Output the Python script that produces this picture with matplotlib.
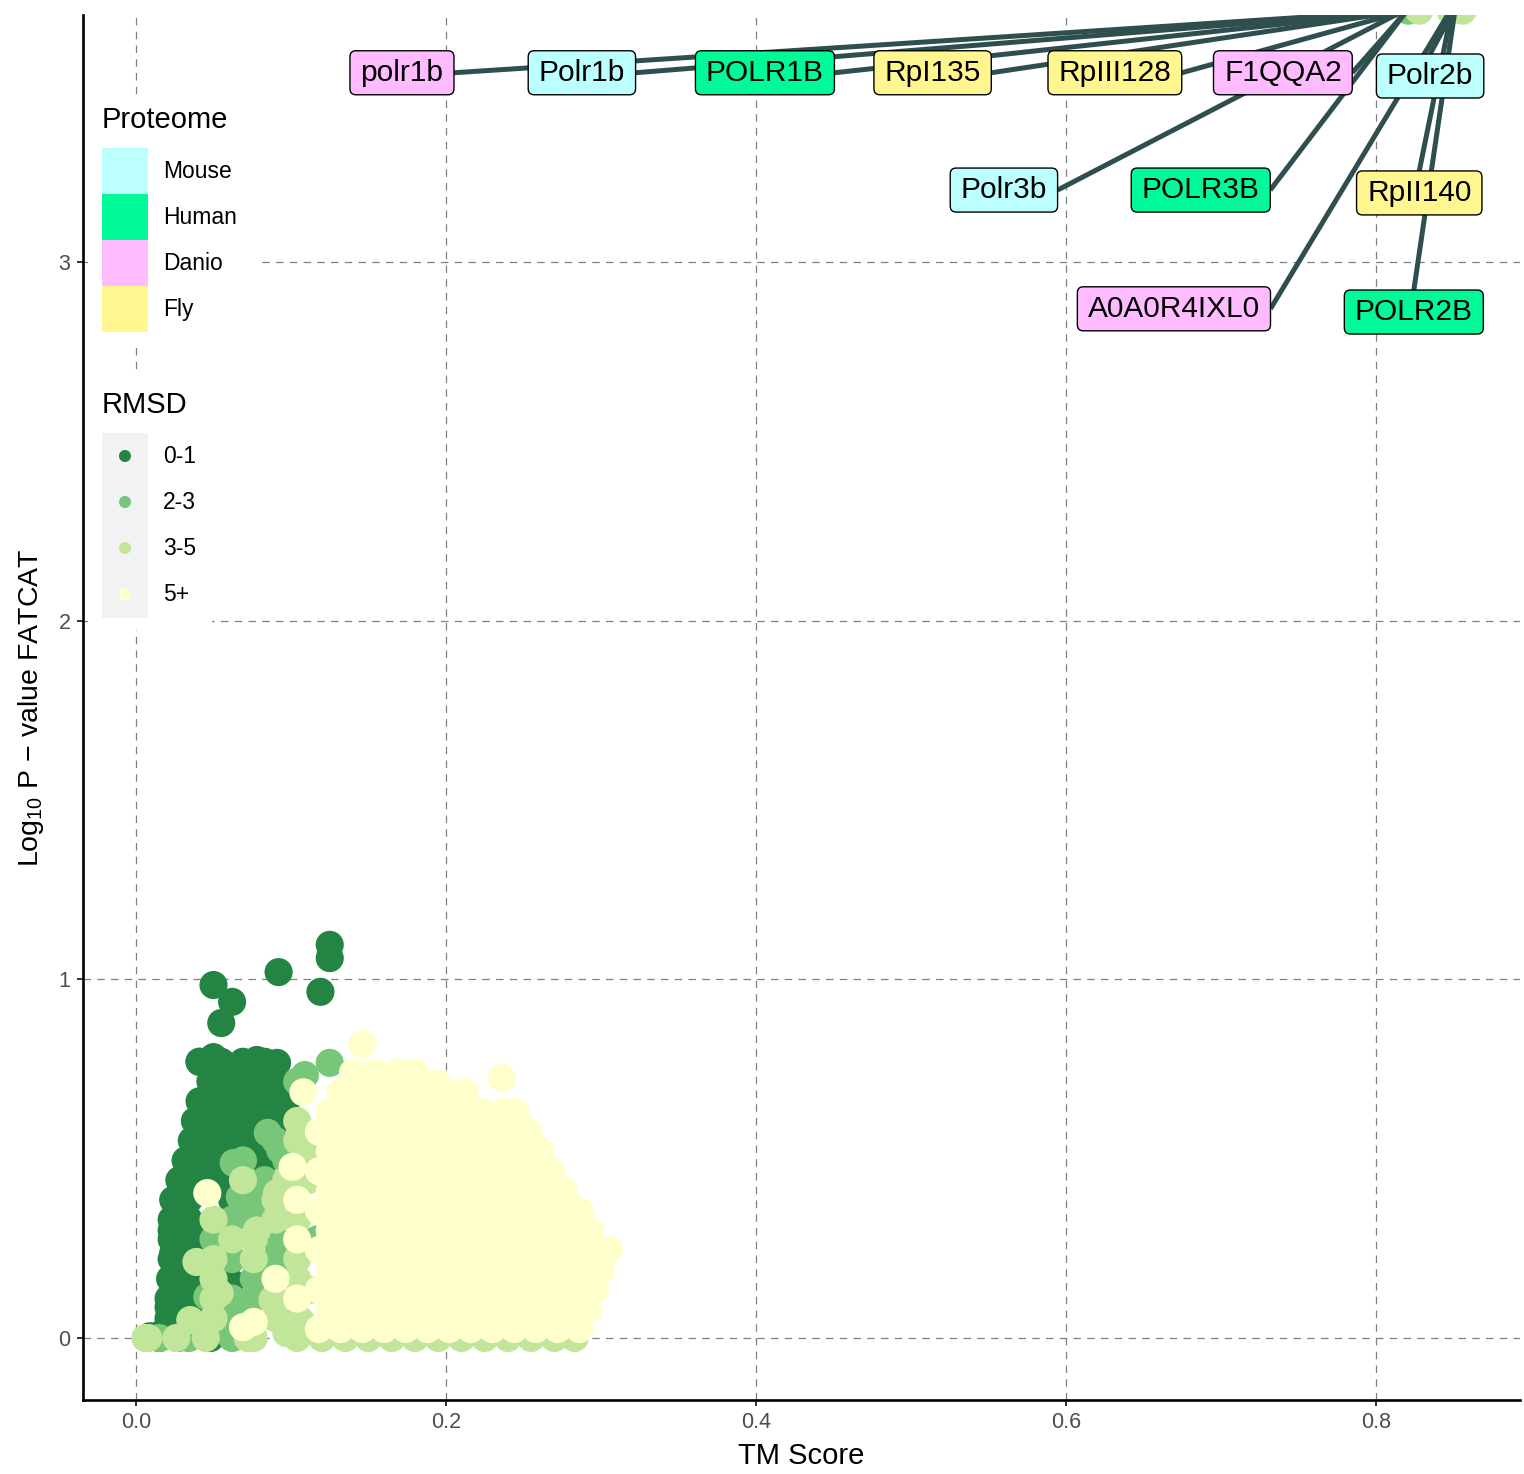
import matplotlib
matplotlib.use('Agg')
import matplotlib.pyplot as plt
from matplotlib.patches import Rectangle, FancyBboxPatch
from matplotlib.transforms import IdentityTransform

plt.rcParams['font.family'] = ['Liberation Sans', 'DejaVu Sans']
plt.rcParams['mathtext.fontset'] = 'custom'
plt.rcParams['mathtext.rm'] = 'Liberation Sans'

# --- data -----------------------------------------------------------------
rmsd_classes = ['0-1', '2-3', '3-5', '5+']
rmsd_colors = ['#238443', '#78c679', '#c2e699', '#ffffcc']

proteomes = ['Mouse', 'Human', 'Danio', 'Fly']
proteome_colors = ['#bbffff', '#00fa9a', '#ffbbff', '#fff68f']

# (TM score, log10 p)
rmsd01 = [(0.050, 0.984), (0.062, 0.937), (0.055, 0.878), (0.092, 1.020),
          (0.125, 1.096), (0.125, 1.059), (0.119, 0.965), (0.050, 0.783),
          (0.041, 0.770), (0.078, 0.775), (0.091, 0.767), (0.065, 0.720),
          (0.048, 0.663), (0.086, 0.683), (0.093, 0.663), (0.041, 0.600),
          (0.061, 0.608), (0.077, 0.636), (0.091, 0.608), (0.072, 0.560),
          (0.057, 0.552), (0.035, 0.496), (0.050, 0.516), (0.067, 0.482),
          (0.030, 0.421), (0.043, 0.440), (0.062, 0.385), (0.025, 0.385),
          (0.026, 0.329), (0.039, 0.309), (0.023, 0.300), (0.024, 0.237),
          (0.036, 0.245), (0.023, 0.162), (0.033, 0.181), (0.021, 0.086),
          (0.032, 0.106), (0.061, 0.156), (0.059, 0.120), (0.038, 0.070),
          (0.017, 0.014), (0.009, 0.005), (0.027, 0.005), (0.045, 0.010),
          (0.041, 0.770), (0.055, 0.770), (0.069, 0.770), (0.083, 0.770),
          (0.048, 0.715), (0.062, 0.715), (0.076, 0.715), (0.090, 0.715),
          (0.041, 0.660), (0.055, 0.660), (0.069, 0.660), (0.083, 0.660),
          (0.097, 0.660), (0.038, 0.605), (0.048, 0.605), (0.062, 0.605),
          (0.076, 0.605), (0.090, 0.605), (0.036, 0.550), (0.048, 0.550),
          (0.062, 0.550), (0.076, 0.550), (0.032, 0.495), (0.041, 0.495),
          (0.055, 0.495), (0.083, 0.495), (0.028, 0.440), (0.041, 0.440),
          (0.055, 0.440), (0.024, 0.385), (0.034, 0.385), (0.023, 0.330),
          (0.034, 0.330), (0.023, 0.275), (0.034, 0.275), (0.023, 0.220),
          (0.034, 0.220), (0.022, 0.165), (0.034, 0.165), (0.021, 0.110),
          (0.034, 0.110), (0.021, 0.055), (0.034, 0.055), (0.015, 0.000),
          (0.027, 0.000), (0.048, 0.000)]

rmsd23 = [(0.125, 0.767), (0.109, 0.733), (0.063, 0.488), (0.085, 0.572),
          (0.093, 0.524), (0.082, 0.365), (0.067, 0.393), (0.123, 0.273),
          (0.095, 0.217), (0.078, 0.181), (0.059, 0.022), (0.072, 0.050),
          (0.015, 0.000), (0.046, 0.115), (0.104, 0.715), (0.090, 0.550),
          (0.069, 0.495), (0.097, 0.495), (0.083, 0.440), (0.076, 0.385),
          (0.062, 0.330), (0.076, 0.330), (0.090, 0.275), (0.117, 0.275),
          (0.062, 0.220), (0.090, 0.220), (0.076, 0.165), (0.076, 0.110),
          (0.062, 0.055), (0.034, 0.000), (0.062, 0.000), (0.050, 0.275),
          (0.062, 0.110), (0.821, 3.700)]

rmsd35 = [(0.054, 0.125), (0.078, 0.300), (0.039, 0.212), (0.091, 0.404),
          (0.108, 0.440), (0.117, 0.516), (0.125, 0.365), (0.035, 0.050),
          (0.026, 0.000), (0.072, 0.000), (0.097, 0.014), (0.125, 0.282),
          (0.112, 0.134), (0.088, 0.106), (0.106, 0.050), (0.006, 0.000),
          (0.045, 0.000), (0.104, 0.605), (0.104, 0.550), (0.111, 0.495),
          (0.069, 0.440), (0.097, 0.440), (0.111, 0.440), (0.090, 0.385),
          (0.050, 0.330), (0.090, 0.330), (0.104, 0.330), (0.062, 0.275),
          (0.076, 0.275), (0.050, 0.220), (0.076, 0.220), (0.104, 0.220),
          (0.050, 0.165), (0.104, 0.165), (0.050, 0.110), (0.090, 0.110),
          (0.050, 0.055), (0.090, 0.055), (0.104, 0.055), (0.008, 0.000),
          (0.076, 0.000), (0.104, 0.000), (0.120, 0.000), (0.135, 0.000),
          (0.150, 0.000), (0.165, 0.000), (0.180, 0.000), (0.195, 0.000),
          (0.210, 0.000), (0.225, 0.000), (0.240, 0.000), (0.255, 0.000),
          (0.270, 0.000), (0.283, 0.000),
          (0.828, 3.700), (0.848, 3.700), (0.856, 3.700)]

# the 5+ cloud, row by row: (log10 p, [TM scores])
rmsd5_rows = [
    (0.025, [0.118, 0.132, 0.146, 0.160, 0.174, 0.188, 0.202, 0.216, 0.230, 0.244, 0.258, 0.272, 0.286]),
    (0.080, [0.125, 0.139, 0.153, 0.167, 0.181, 0.195, 0.209, 0.223, 0.237, 0.251, 0.265, 0.279, 0.292]),
    (0.135, [0.118, 0.132, 0.146, 0.160, 0.174, 0.188, 0.202, 0.216, 0.230, 0.244, 0.258, 0.272, 0.286, 0.296]),
    (0.190, [0.125, 0.139, 0.153, 0.167, 0.181, 0.195, 0.209, 0.223, 0.237, 0.251, 0.265, 0.279, 0.293, 0.300]),
    (0.245, [0.118, 0.132, 0.146, 0.160, 0.174, 0.188, 0.202, 0.216, 0.230, 0.244, 0.258, 0.272, 0.286, 0.298, 0.305]),
    (0.300, [0.125, 0.139, 0.153, 0.167, 0.181, 0.195, 0.209, 0.223, 0.237, 0.251, 0.265, 0.279, 0.293]),
    (0.355, [0.118, 0.132, 0.146, 0.160, 0.174, 0.188, 0.202, 0.216, 0.230, 0.244, 0.258, 0.272, 0.286]),
    (0.410, [0.125, 0.139, 0.153, 0.167, 0.181, 0.195, 0.209, 0.223, 0.237, 0.251, 0.265, 0.276]),
    (0.465, [0.118, 0.132, 0.146, 0.160, 0.174, 0.188, 0.202, 0.216, 0.230, 0.244, 0.258, 0.268]),
    (0.520, [0.125, 0.139, 0.153, 0.167, 0.181, 0.195, 0.209, 0.223, 0.237, 0.251, 0.261]),
    (0.575, [0.118, 0.132, 0.146, 0.160, 0.174, 0.188, 0.202, 0.216, 0.230, 0.244, 0.253]),
    (0.630, [0.125, 0.139, 0.153, 0.167, 0.181, 0.195, 0.209, 0.223, 0.237, 0.245]),
    (0.685, [0.108, 0.132, 0.146, 0.160, 0.174, 0.188, 0.202, 0.212]),
    (0.740, [0.140, 0.154, 0.168, 0.180]),
    (0.710, [0.194]),
    (0.725, [0.236]),
    (0.820, [0.146]),
    (0.404, [0.046]),
    (0.477, [0.101]),
    (0.385, [0.104]),
    (0.275, [0.104]),
    (0.165, [0.090]),
    (0.110, [0.104]),
    (0.045, [0.076]),
    (0.030, [0.069]),
]

# labelled proteins: name, proteome, labelled point
label_names = ['polr1b', 'Polr1b', 'POLR1B', 'RpI135', 'RpIII128', 'F1QQA2',
               'Polr2b', 'Polr3b', 'POLR3B', 'RpII140', 'A0A0R4IXL0', 'POLR2B']
label_proteome = ['Danio', 'Mouse', 'Human', 'Fly', 'Fly', 'Danio',
                  'Mouse', 'Mouse', 'Human', 'Fly', 'Danio', 'Human']
label_tm = [0.818, 0.818, 0.819, 0.819, 0.820, 0.820,
            0.850, 0.818, 0.820, 0.849, 0.848, 0.851]
label_logp = [3.70] * 12

# repelled label positions (layout)
label_pos = [(0.1716, 3.527), (0.2877, 3.527), (0.4058, 3.527), (0.514, 3.527),
             (0.6316, 3.527), (0.740, 3.527), (0.835, 3.518), (0.560, 3.200),
             (0.687, 3.200), (0.828, 3.192), (0.6697, 2.869), (0.8245, 2.860)]

# --- figure ---------------------------------------------------------------
W, H = 1524, 1474
fig = plt.figure(figsize=(W / 100, H / 100), dpi=100)
ax = fig.add_axes([83 / W, (H - 1400) / H, 1437 / W, 1385 / H])

ax.set_xlim(-0.0342, 0.893)
ax.set_ylim(-0.1728, 3.688)

msize = 410
for pts, col in zip([rmsd01, rmsd23, rmsd35], rmsd_colors[:3]):
    xs, ys = zip(*pts)
    ax.scatter(xs, ys, s=msize, color=col, edgecolors='none', zorder=2)
yx, yy = [], []
for y, xs in rmsd5_rows:
    yx += xs
    yy += [y] * len(xs)
ax.scatter(yx, yy, s=msize, color=rmsd_colors[3], edgecolors='none', zorder=2)

# grid and axes styling
ax.set_xticks([0.0, 0.2, 0.4, 0.6, 0.8])
ax.set_xticklabels(['0.0', '0.2', '0.4', '0.6', '0.8'])
ax.set_yticks([0, 1, 2, 3])
ax.set_yticklabels(['0', '1', '2', '3'])
ax.grid(True, color='#808080', lw=0.9, dashes=(6, 5), zorder=0)
ax.set_axisbelow(True)
for s in ['top', 'right']:
    ax.spines[s].set_visible(False)
for s in ['left', 'bottom']:
    ax.spines[s].set_linewidth(1.9)
    ax.spines[s].set_color('black')
ax.tick_params(length=4, width=1.4, color='#333333', labelsize=15.5,
               labelcolor='#4d4d4d', pad=5)

ax.set_xlabel('TM Score', fontsize=21)
ax.set_ylabel('Log$_{10}$ P − value FATCAT', fontsize=20.5)
ax.xaxis.set_label_coords(0.5, -0.030)
ax.yaxis.set_label_coords(-0.026, 0.5)

# labels with leader lines (segment leaves from the nearest side of the box)
fig.canvas.draw()
renderer = fig.canvas.get_renderer()
pcol = dict(zip(proteomes, proteome_colors))
padx, pady = 10.5, 8
for name, prot, tx, ty, (lx, ly) in zip(label_names, label_proteome, label_tm,
                                        label_logp, label_pos):
    t = ax.text(lx, ly, name, ha='center', va='center', fontsize=21.5, zorder=6)
    bb = t.get_window_extent(renderer)
    x0, y0 = bb.x0 - padx, bb.y0 - pady
    x1, y1 = bb.x1 + padx, bb.y1 + pady
    box = FancyBboxPatch((x0, y0), x1 - x0, y1 - y0,
                         boxstyle='round,pad=0,rounding_size=6',
                         transform=IdentityTransform(), fc=pcol[prot],
                         ec='black', lw=1.0, zorder=5)
    ax.add_patch(box)
    px, py = ax.transData.transform((tx, ty))
    mids = [((x0 + x1) / 2, y0), ((x0 + x1) / 2, y1),
            (x0, (y0 + y1) / 2), (x1, (y0 + y1) / 2)]
    sx, sy = min(mids, key=lambda m: (m[0] - px) ** 2 + (m[1] - py) ** 2)
    ax.plot([sx, px], [sy, py], color='#2f4f4f', lw=3.6, zorder=3,
            solid_capstyle='butt', transform=IdentityTransform())

# legends, drawn in pixel space
lax = fig.add_axes([0, 0, 1, 1], zorder=10)
lax.set_xlim(0, W)
lax.set_ylim(H, 0)
lax.axis('off')
lax.patch.set_alpha(0)

lax.add_patch(Rectangle((88, 95), 170, 250, fc='white', ec='none'))
lax.text(102, 120, 'Proteome', fontsize=21, va='center')
for i, (p, c) in enumerate(zip(proteomes, proteome_colors)):
    lax.add_patch(Rectangle((102, 148 + 46 * i), 46, 46, fc=c, ec='none'))
    lax.text(163, 171 + 46 * i, p, fontsize=16.5, va='center')

lax.add_patch(Rectangle((88, 372), 124, 258, fc='white', ec='none'))
lax.text(102, 405, 'RMSD', fontsize=21, va='center')
lax.add_patch(Rectangle((102, 433), 46, 185, fc='#f2f2f2', ec='none'))
for i, (r, c) in enumerate(zip(rmsd_classes, rmsd_colors)):
    lax.scatter([125], [456 + 46 * i], s=75, color=c, edgecolors='none')
    lax.text(163, 456 + 46 * i, r, fontsize=16.5, va='center')

fig.savefig('out.png', dpi=100)
